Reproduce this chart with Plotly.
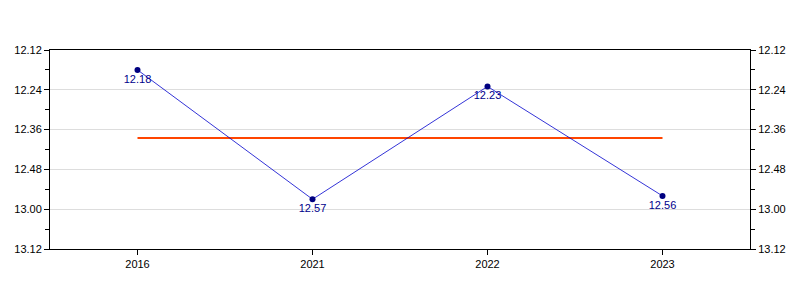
import plotly.graph_objects as go

years = ["2016", "2021", "2022", "2023"]
times = ["12.18", "12.57", "12.23", "12.56"]  # minutes.seconds
tick_labels = ["12.12", "12.24", "12.36", "12.48", "13.00", "13.12"]


def to_sec(s):
    m, sec = s.split(".")
    return int(m) * 60 + int(sec)


vals = [to_sec(t) for t in times]
avg = sum(vals) / len(vals)
tick_vals = [to_sec(t) for t in tick_labels]
minor_vals = [v + 6 for v in tick_vals[:-1]]

font = dict(family="Liberation Sans, Arial, sans-serif", size=11, color="black")

fig = go.Figure()
fig.add_trace(go.Scatter(
    x=years, y=[avg] * len(years), mode="lines",
    line=dict(color="#FF4500", width=2), hoverinfo="skip", showlegend=False))
fig.add_trace(go.Scatter(
    x=years, y=vals, mode="lines+markers+text", text=times,
    textposition="bottom center",
    textfont=dict(family="Liberation Sans, Arial, sans-serif", size=11, color="#00008B"),
    line=dict(color="#0000CD", width=0.8),
    marker=dict(color="#000080", size=6), showlegend=False))
fig.add_trace(go.Scatter(x=years, y=vals, yaxis="y2", mode="markers",
                         marker=dict(opacity=0), hoverinfo="skip", showlegend=False))

yax = dict(range=[792, 732], tickmode="array", tickvals=tick_vals, ticktext=tick_labels,
           ticks="outside", ticklen=5, tickcolor="black", showline=True, linecolor="black",
           linewidth=1, showgrid=True, gridcolor="#DDDDDD", gridwidth=1, zeroline=False,
           tickfont=font,
           minor=dict(tickmode="array", tickvals=minor_vals, ticks="outside", ticklen=4,
                      tickcolor="black", showgrid=False))

fig.update_layout(
    width=800, height=300, margin=dict(l=50, r=50, t=50, b=51),
    paper_bgcolor="white", plot_bgcolor="white",
    xaxis=dict(type="category", range=[-0.5, 3.5], ticks="outside", ticklen=5,
               tickcolor="black", showline=True, linecolor="black", mirror=True,
               showgrid=False, tickfont=font),
    yaxis=yax,
    yaxis2=dict(yax, overlaying="y", side="right", matches="y", showgrid=False),
)

fig.write_html("out.html")
